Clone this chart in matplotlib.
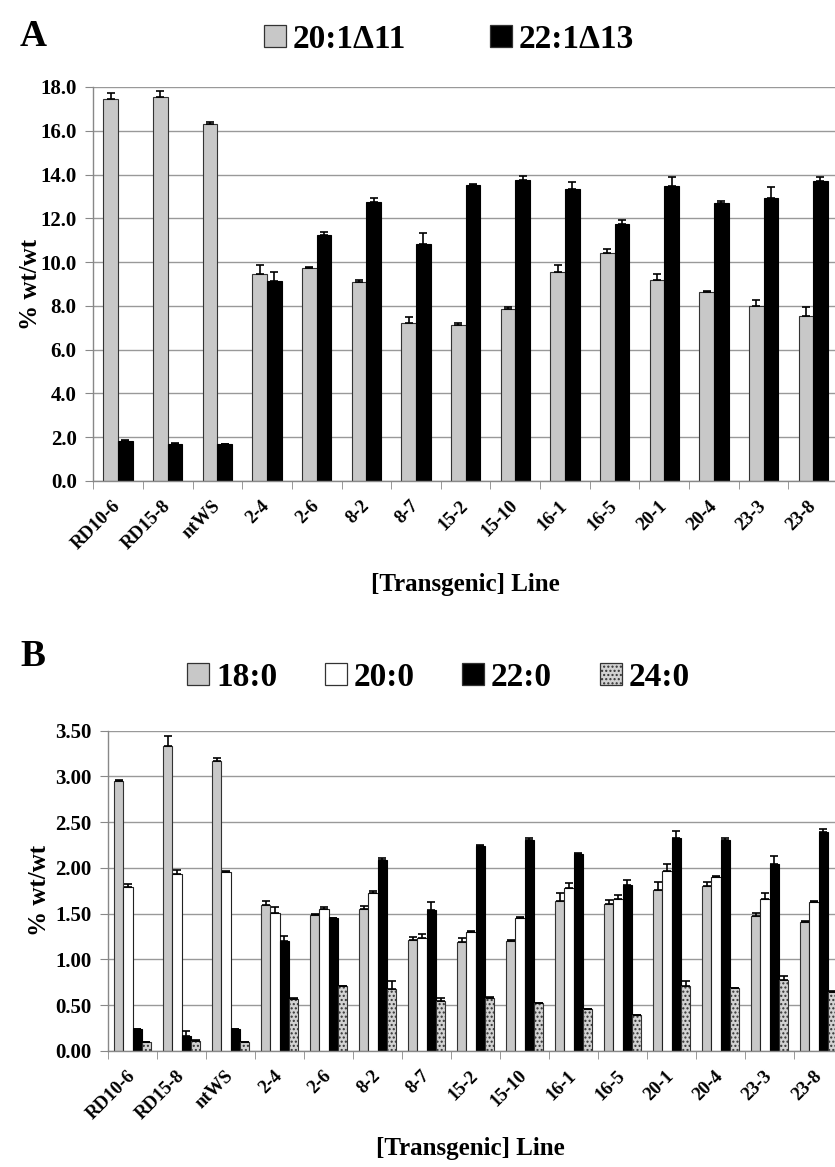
import numpy as np
import matplotlib
matplotlib.use("Agg")
import matplotlib.pyplot as plt
from matplotlib.patches import Rectangle

plt.rcParams['font.family'] = ['Liberation Serif', 'DejaVu Serif']
plt.rcParams['font.weight'] = 'bold'
plt.rcParams['hatch.color'] = '#3a3a3a'
plt.rcParams['hatch.linewidth'] = 1.0

lines = ["RD10-6", "RD15-8", "ntWS", "2-4", "2-6", "8-2", "8-7", "15-2",
         "15-10", "16-1", "16-5", "20-1", "20-4", "23-3", "23-8"]

# Panel A
a_names = ["20:1\u039411", "22:1\u039413"]
a_201 = [17.44, 17.53, 16.32, 9.45, 9.71, 9.10, 7.24, 7.12, 7.88, 9.56, 10.40, 9.18, 8.63, 7.99, 7.56]
a_201_err = [0.30, 0.30, 0.10, 0.44, 0.08, 0.06, 0.25, 0.10, 0.08, 0.30, 0.18, 0.29, 0.06, 0.30, 0.38]
a_221 = [1.84, 1.70, 1.67, 9.15, 11.26, 12.75, 10.85, 13.52, 13.77, 13.33, 11.75, 13.50, 12.68, 12.92, 13.70]
a_221_err = [0.02, 0.02, 0.02, 0.40, 0.12, 0.17, 0.50, 0.05, 0.18, 0.32, 0.18, 0.40, 0.12, 0.53, 0.17]

# Panel B
b_names = ["18:0", "20:0", "22:0", "24:0"]
b_180 = [2.945, 3.33, 3.17, 1.60, 1.487, 1.55, 1.21, 1.19, 1.206, 1.636, 1.607, 1.76, 1.80, 1.47, 1.414]
b_180_err = [0.02, 0.11, 0.03, 0.04, 0.01, 0.03, 0.04, 0.05, 0.01, 0.09, 0.04, 0.09, 0.05, 0.04, 0.01]
b_200 = [1.79, 1.93, 1.953, 1.505, 1.55, 1.724, 1.23, 1.30, 1.458, 1.786, 1.66, 1.968, 1.906, 1.66, 1.63]
b_200_err = [0.03, 0.05, 0.01, 0.07, 0.02, 0.02, 0.05, 0.01, 0.01, 0.05, 0.04, 0.08, 0.01, 0.07, 0.01]
b_220 = [0.235, 0.163, 0.239, 1.20, 1.458, 2.088, 1.54, 2.245, 2.307, 2.15, 1.815, 2.325, 2.31, 2.045, 2.39]
b_220_err = [0.0, 0.06, 0.0, 0.06, 0.0, 0.02, 0.09, 0.01, 0.02, 0.01, 0.05, 0.08, 0.02, 0.09, 0.04]
b_240 = [0.094, 0.109, 0.10, 0.57, 0.714, 0.674, 0.547, 0.583, 0.52, 0.46, 0.394, 0.714, 0.685, 0.78, 0.65]
b_240_err = [0.0, 0.01, 0.0, 0.01, 0.0, 0.09, 0.03, 0.01, 0.0, 0.0, 0.0, 0.05, 0.0, 0.04, 0.01]

W, H = 835, 1167
fig = plt.figure(figsize=(W / 100, H / 100), dpi=100)

GRAY = '#c8c8c8'
styles_a = [dict(color=GRAY, edgecolor='#333333'), dict(color='black', edgecolor='black')]
styles_b = [dict(color=GRAY, edgecolor='#333333'),
            dict(color='white', edgecolor='#222222'),
            dict(color='black', edgecolor='black'),
            dict(color='#d2d2d2', edgecolor='#333333', hatch='....')]


def px_axes(l, t, r, b):
    return fig.add_axes([l / W, 1 - b / H, (r - l) / W, (b - t) / H])


def style_axes(ax, ymax, step, fmt):
    ax.set_xlim(0, len(lines))
    ax.set_ylim(0, ymax)
    ticks = np.arange(0, ymax + step / 2, step)
    ax.set_yticks(ticks)
    ax.set_yticklabels([fmt.format(v) for v in ticks], fontsize=15, fontweight='bold')
    ax.yaxis.grid(True, color='#999999', linewidth=1.0)
    ax.set_axisbelow(True)
    for s in ['top', 'right']:
        ax.spines[s].set_visible(False)
    for s in ['left', 'bottom']:
        ax.spines[s].set_color('#888888')
        ax.spines[s].set_linewidth(1.0)
    ax.set_xticks(np.arange(len(lines)) + 0.5)
    ax.set_xticklabels(lines, rotation=45, ha='right', va='center', rotation_mode='anchor',
                       fontsize=13.5, fontweight='bold')
    ax.tick_params(axis='x', which='major', length=0, pad=16)
    ax.set_xticks(np.arange(len(lines) + 1), minor=True)
    ax.tick_params(axis='x', which='minor', length=6, color='#888888', direction='out')
    ax.tick_params(axis='y', length=6, color='#888888', direction='out', pad=6)


def draw_bars(ax, series, errs, styles, width):
    n = len(series)
    x = np.arange(len(lines)) + 0.5
    for i, (vals, err, st) in enumerate(zip(series, errs, styles)):
        off = (i - (n - 1) / 2) * width
        ax.bar(x + off, vals, width=width, linewidth=0.8, zorder=2, **st)
        ax.errorbar(x + off, vals, yerr=[np.zeros(len(vals)), err], fmt='none',
                    ecolor='black', elinewidth=1.2, capsize=3.2, capthick=1.2, zorder=3)


def legend(names, styles, xs, y, sq=22):
    for name, st, x0 in zip(names, styles, xs):
        r = Rectangle((x0 / W, 1 - (y + sq / 2) / H), sq / W, sq / H, transform=fig.transFigure,
                      facecolor=st['color'], edgecolor='#333333', linewidth=0.9,
                      hatch=st.get('hatch'))
        fig.add_artist(r)
        fig.text((x0 + sq + 7) / W, 1 - y / H, name, fontsize=24, fontweight='bold',
                 ha='left', va='center_baseline')


# Panel A
axA = px_axes(93.3, 87, 838, 481)
style_axes(axA, 18, 2, "{:.1f}")
draw_bars(axA, [a_201, a_221], [a_201_err, a_221_err], styles_a, 0.295)
axA.set_ylabel("% wt/wt", fontsize=18, fontweight='bold', labelpad=-1)
fig.text(465 / W, 1 - 585 / H, "[Transgenic] Line", fontsize=18, fontweight='bold', ha='center', va='center')
fig.text(20 / W, 1 - 36 / H, "A", fontsize=27, fontweight='bold', ha='left', va='center')
legend(a_names, styles_a, [264, 490], 36)

# Panel B
axB = px_axes(108, 730.7, 843.3, 1051)
style_axes(axB, 3.5, 0.5, "{:.2f}")
draw_bars(axB, [b_180, b_200, b_220, b_240], [b_180_err, b_200_err, b_220_err, b_240_err], styles_b, 0.19)
axB.set_ylabel("% wt/wt", fontsize=18, fontweight='bold', labelpad=3)
fig.text(470 / W, 1 - 1148 / H, "[Transgenic] Line", fontsize=18, fontweight='bold', ha='center', va='center')
fig.text(20 / W, 1 - 656 / H, "B", fontsize=27, fontweight='bold', ha='left', va='center')
legend(b_names, styles_b, [187, 325, 462, 600], 674)

fig.savefig("out.png", dpi=100)
